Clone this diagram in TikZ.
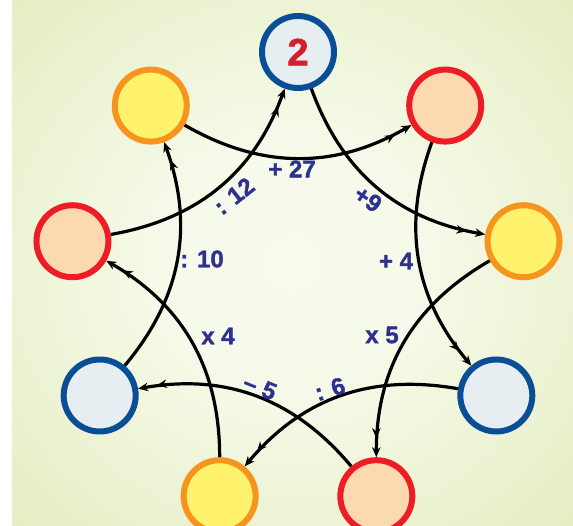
\documentclass[tikz,border=0pt]{standalone}
\usepackage{fontspec}
\newfontfamily\opfont[Ligatures=TeX, BoldFeatures={FakeBold=1.5}]{Liberation Sans}
\usetikzlibrary{arrows.meta}
\definecolor{bgin}{HTML}{F8FBEE}
\definecolor{bgout}{HTML}{DBE7AB}
\definecolor{ringblue}{HTML}{0A4E96}
\definecolor{fillblue}{HTML}{E6EEF1}
\definecolor{ringred}{HTML}{EE1D25}
\definecolor{fillpeach}{HTML}{FDD9B2}
\definecolor{ringorange}{HTML}{F7941E}
\definecolor{fillyellow}{HTML}{FFF36D}
\definecolor{opcolor}{HTML}{2E3192}
\definecolor{numred}{HTML}{D3202F}
\pgfdeclareradialshading{bgglow}{\pgfpoint{0bp}{0bp}}{color(0bp)=(bgin); color(12bp)=(bgin!92!bgout); color(50bp)=(bgout)}

\begin{document}
\begin{tikzpicture}[
    x=1pt, y=1pt,
    ball/.style={circle, minimum size=72pt, line width=6pt, inner sep=0pt},
    blueball/.style={ball, draw=ringblue, fill=fillblue},
    redball/.style={ball, draw=ringred, fill=fillpeach},
    orangeball/.style={ball, draw=ringorange, fill=fillyellow},
    link/.style={-{Stealth[length=10pt,width=8.5pt,sep=9pt]Stealth[length=10pt,width=8.5pt]}, line width=3.2pt, bend right=30},
    op/.style={font=\opfont\bfseries\fontsize{24}{24}\selectfont, text=opcolor, inner sep=1pt}
]

% Background panel
\useasboundingbox (-298,-245) rectangle (275,281);
\shade[shading=bgglow] (-286,-245) rectangle (275,281);

% Nine circles, clockwise from the top
\node[blueball] (c0) at (90:229) {\opfont\bfseries\fontsize{38}{38}\selectfont\color{numred}2};
\node[redball] (c1) at (50:229) {};
\node[orangeball] (c2) at (10:229) {};
\node[blueball] (c3) at (-30:229) {};
\node[redball] (c4) at (-70:229) {};
\node[orangeball] (c5) at (-110:229) {};
\node[blueball] (c6) at (-150:229) {};
\node[redball] (c7) at (170:229) {};
\node[orangeball] (c8) at (130:229) {};

% Chain of operations (every second circle)
\draw[link] (c0) to (c2);
\draw[link] (c2) to (c4);
\draw[link] (c4) to (c6);
\draw[link] (c6) to (c8);
\draw[link] (c8) to (c1);
\draw[link] (c1) to (c3);
\draw[link] (c3) to (c5);
\draw[link] (c5) to (c7);
\draw[link] (c7) to (c0);

% Operation labels
\node[op, rotate=-35] (o1) at (70,82) {+9};
\node[op] (o2) at (84,-54) {x 5};
\node[op, rotate=-22] (o3) at (-38,-106) {– 5};
\node[op] (o4) at (-96,22) {: 10};
\node[op] (o5) at (-6,112) {+ 27};
\node[op] (o6) at (98,20) {+ 4};
\node[op, rotate=17] (o7) at (32,-108) {: 6};
\node[op] (o8) at (-80,-55) {x 4};
\node[op, rotate=38] (o9) at (-64,85) {: 12};

\end{tikzpicture}
\end{document}
